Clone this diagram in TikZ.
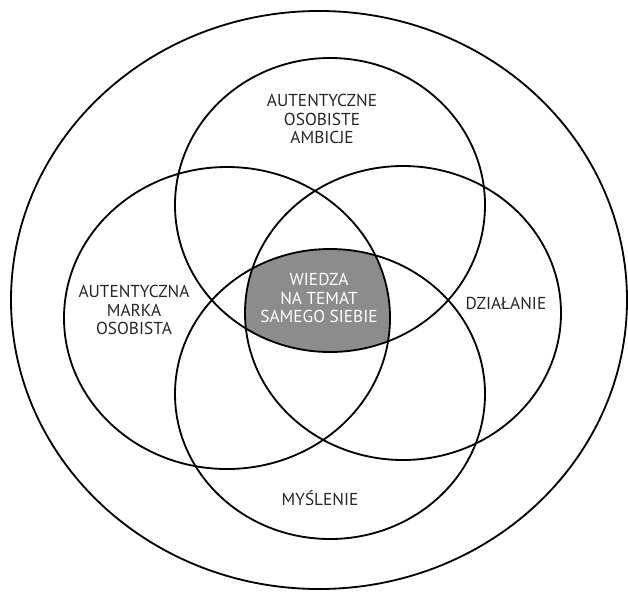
\documentclass[tikz,border=0pt]{standalone}
\usepackage{fontspec}
\setmainfont{PT Sans}
\usepackage{tikz}
\usepackage{xcolor}

\begin{document}
\begin{tikzpicture}[x=0.025cm,y=-0.025cm,
  ring/.style={line width=1.3pt},
  txt/.style={align=center,text=black!85,font=\fontsize{12.3}{13.2}\selectfont}]

\useasboundingbox (0,0) rectangle (628,591);

\begin{scope}
\clip (330,205) ellipse [x radius=155, y radius=147];
\clip (227,318) ellipse [x radius=163, y radius=151];
\clip (403,313) ellipse [x radius=158, y radius=147];
\fill[black!45] (330,394) ellipse [x radius=155, y radius=145];
\end{scope}

\draw[ring] (319,300) ellipse [x radius=308, y radius=289];
\draw[ring] (330,205) ellipse [x radius=155, y radius=147];
\draw[ring] (227,318) ellipse [x radius=163, y radius=151];
\draw[ring] (403,313) ellipse [x radius=158, y radius=147];
\draw[ring] (330,394) ellipse [x radius=155, y radius=145];

\node[txt] (ambicje) at (322,119) {AUTENTYCZNE\\OSOBISTE\\AMBICJE};
\node[txt] (marka) at (134,310) {AUTENTYCZNA\\MARKA\\OSOBISTA};
\node[txt] (dzialanie) at (506,303) {DZIAŁANIE};
\node[txt] (myslenie) at (320,498) {MYŚLENIE};
\node[txt,text=white] (wiedza) at (319,298) {WIEDZA\\NA TEMAT\\SAMEGO SIEBIE};

\end{tikzpicture}
\end{document}
